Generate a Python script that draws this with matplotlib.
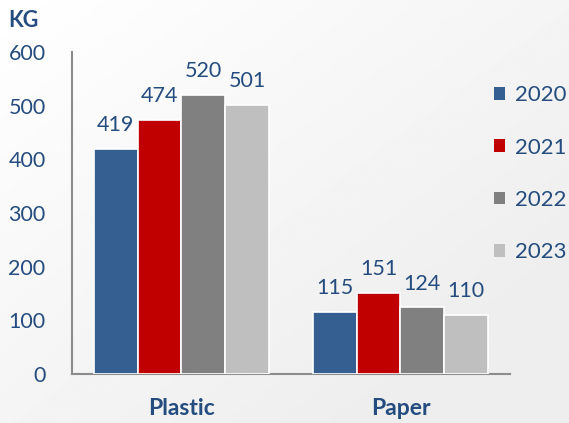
import numpy as np
import matplotlib.pyplot as plt

categories = ['Plastic', 'Paper']
years = ['2020', '2021', '2022', '2023']
values = {
    '2020': [419, 115],
    '2021': [474, 151],
    '2022': [520, 124],
    '2023': [501, 110],
}
colors = ['#365F91', '#C00000', '#808080', '#BFBFBF']
text_color = '#254C7E'

plt.rcParams['font.family'] = ['Lato', 'DejaVu Sans']

fig = plt.figure(figsize=(5.69, 4.23), dpi=100)

# soft gradient background
bg = fig.add_axes([0, 0, 1, 1], zorder=-10)
yy, xx = np.mgrid[0:1:200j, 0:1:200j]
grad = 1.0 - 0.07 * np.clip(0.6 * xx + 0.6 * yy, 0, 1)
bg.imshow(grad, cmap='gray', vmin=0, vmax=1, aspect='auto', extent=[0, 1, 0, 1])
bg.axis('off')

ax = fig.add_axes([0.1265, 0.1158, 0.7698, 0.7612])
ax.set_facecolor('none')

x = np.arange(len(categories))
w = 0.2
for i, yr in enumerate(years):
    pos = x + (i - 1.5) * w
    bars = ax.bar(pos, values[yr], w, color=colors[i], edgecolor='white',
                  linewidth=1.2, label=yr, zorder=3)
    for b, v in zip(bars, values[yr]):
        ax.text(b.get_x() + b.get_width() / 2, v + 26, str(v), ha='center',
                va='bottom', fontsize=15.5, color=text_color)

ax.set_xlim(-0.5, 1.5)
ax.set_ylim(0, 600)
ax.set_yticks([0, 100, 200, 300, 400, 500, 600])
ax.set_xticks(x)
ax.set_xticklabels(categories, fontsize=16.5, fontweight='bold', color=text_color)
ax.tick_params(axis='x', length=0, pad=17)
ax.tick_params(axis='y', length=0, pad=19, labelsize=15.5, labelcolor=text_color)
for s in ['top', 'right']:
    ax.spines[s].set_visible(False)
for s in ['left', 'bottom']:
    ax.spines[s].set_color('#8C8C8C')
    ax.spines[s].set_linewidth(1.5)

fig.text(0.014, 0.952, 'KG', fontsize=15.5, fontweight='bold', color=text_color,
         va='center', ha='left')

leg = fig.legend(loc='upper left', bbox_to_anchor=(0.868, 0.798), frameon=False,
                 fontsize=16, labelcolor=text_color, handlelength=0.5,
                 handleheight=0.5, handletextpad=0.45, labelspacing=1.45,
                 borderaxespad=0, borderpad=0)
for h in leg.legend_handles:
    h.set_edgecolor('none')

fig.savefig('out.png', dpi=100)
